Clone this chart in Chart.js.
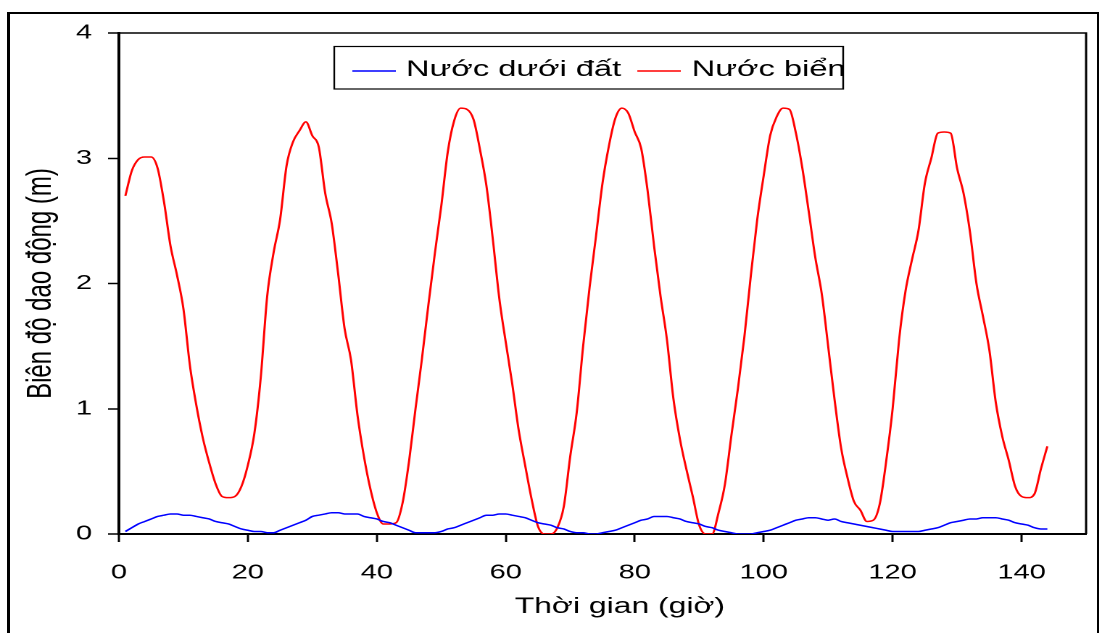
<!DOCTYPE html>
<html>
<head>
<meta charset="utf-8">
<title>Biên độ dao động</title>
<script src="https://cdn.jsdelivr.net/npm/chart.js@4.4.0/dist/chart.umd.min.js"></script>
<style>
  html, body { margin: 0; padding: 0; background: #fff; width: 1099px; height: 633px; overflow: hidden; }
  #frame { position: absolute; left: 7px; top: 12px; width: 1087px; height: 640px;
           border-left: 3px solid #000; border-top: 2px solid #000; border-right: 2px solid #000; }
  /* the original picture is stretched sideways, so the chart is drawn narrow and scaled */
  #wrap { position: absolute; left: 0; top: 0; width: 758px; height: 633px;
          transform: scaleX(1.45); transform-origin: 0 0; }
</style>
</head>
<body>
<div id="frame"></div>
<div id="wrap"><canvas id="chartTide"></canvas></div>
<script>
// hours
const hours = [
  1, 2, 3, 4, 5, 6, 7, 8, 9, 10, 11, 12,
  13, 14, 15, 16, 17, 18, 19, 20, 21, 22, 23, 24,
  25, 26, 27, 28, 29, 30, 31, 32, 33, 34, 35, 36,
  37, 38, 39, 40, 41, 42, 43, 44, 45, 46, 47, 48,
  49, 50, 51, 52, 53, 54, 55, 56, 57, 58, 59, 60,
  61, 62, 63, 64, 65, 66, 67, 68, 69, 70, 71, 72,
  73, 74, 75, 76, 77, 78, 79, 80, 81, 82, 83, 84,
  85, 86, 87, 88, 89, 90, 91, 92, 93, 94, 95, 96,
  97, 98, 99, 100, 101, 102, 103, 104, 105, 106, 107, 108,
  109, 110, 111, 112, 113, 114, 115, 116, 117, 118, 119, 120,
  121, 122, 123, 124, 125, 126, 127, 128, 129, 130, 131, 132,
  133, 134, 135, 136, 137, 138, 139, 140, 141, 142, 143, 144
];

// Nước dưới đất (m)
const groundWater = [
  0.02, 0.05, 0.08, 0.10, 0.12, 0.14, 0.15, 0.16, 0.16, 0.15, 0.15, 0.14,
  0.13, 0.12, 0.10, 0.09, 0.08, 0.06, 0.04, 0.03, 0.02, 0.02, 0.01, 0.01,
  0.03, 0.05, 0.07, 0.09, 0.11, 0.14, 0.15, 0.16, 0.17, 0.17, 0.16, 0.16,
  0.16, 0.14, 0.13, 0.12, 0.10, 0.09, 0.07, 0.05, 0.03, 0.01, 0.01, 0.01,
  0.01, 0.02, 0.04, 0.05, 0.07, 0.09, 0.11, 0.13, 0.15, 0.15, 0.16, 0.16,
  0.15, 0.14, 0.13, 0.11, 0.09, 0.08, 0.07, 0.05, 0.04, 0.02, 0.01, 0.01,
  0.00, 0.00, 0.01, 0.02, 0.03, 0.05, 0.07, 0.09, 0.11, 0.12, 0.14, 0.14,
  0.14, 0.13, 0.12, 0.10, 0.09, 0.08, 0.06, 0.05, 0.03, 0.02, 0.01, 0.00,
  0.00, 0.00, 0.01, 0.02, 0.03, 0.05, 0.07, 0.09, 0.11, 0.12, 0.13, 0.13,
  0.12, 0.11, 0.12, 0.10, 0.09, 0.08, 0.07, 0.06, 0.05, 0.04, 0.03, 0.02,
  0.02, 0.02, 0.02, 0.02, 0.03, 0.04, 0.05, 0.07, 0.09, 0.10, 0.11, 0.12,
  0.12, 0.13, 0.13, 0.13, 0.12, 0.11, 0.09, 0.08, 0.07, 0.05, 0.04, 0.04
];

// Nước biển (m)
const seaWater = [
  2.70, 2.90, 2.99, 3.01, 3.01, 2.92, 2.65, 2.30, 2.07, 1.80, 1.35, 1.03,
  0.77, 0.57, 0.40, 0.30, 0.29, 0.30, 0.38, 0.55, 0.80, 1.25, 1.90, 2.25,
  2.51, 2.94, 3.13, 3.22, 3.29, 3.18, 3.09, 2.72, 2.48, 2.08, 1.64, 1.39,
  0.95, 0.62, 0.36, 0.17, 0.08, 0.08, 0.09, 0.25, 0.58, 1.00, 1.40, 1.83,
  2.24, 2.62, 3.05, 3.30, 3.40, 3.39, 3.31, 3.07, 2.78, 2.35, 1.88, 1.53,
  1.20, 0.83, 0.55, 0.28, 0.06, 0.00, 0.00, 0.05, 0.22, 0.62, 0.97, 1.50,
  1.97, 2.38, 2.80, 3.10, 3.32, 3.40, 3.36, 3.21, 3.08, 2.74, 2.30, 1.90,
  1.55, 1.08, 0.76, 0.52, 0.30, 0.07, 0.00, 0.00, 0.17, 0.40, 0.79, 1.16,
  1.57, 2.06, 2.51, 2.86, 3.18, 3.33, 3.40, 3.39, 3.20, 2.92, 2.57, 2.21,
  1.92, 1.50, 1.07, 0.69, 0.45, 0.26, 0.19, 0.10, 0.11, 0.24, 0.58, 1.00,
  1.55, 1.94, 2.19, 2.42, 2.80, 3.00, 3.20, 3.21, 3.20, 2.92, 2.72, 2.41,
  2.00, 1.74, 1.47, 1.05, 0.78, 0.59, 0.38, 0.30, 0.29, 0.32, 0.52, 0.70
];

const seriesNames = ['Nước dưới đất', 'Nước biển'];
const xTitle = 'Thời gian (giờ)';
const yTitle = 'Biên độ dao động (m)';

Chart.defaults.font.family = "'Liberation Sans', Arial, sans-serif";
Chart.defaults.color = '#000';

// top + right frame of the plot, and the x axis title (sits a bit right of centre)
const plotFrame = {
    id: 'plotFrame',
    afterDraw(chart) {
        const c = chart.ctx, a = chart.chartArea;
        c.save();
        c.strokeStyle = '#000';
        c.lineWidth = 1.5;
        c.beginPath();
        c.moveTo(a.left, a.top);
        c.lineTo(a.right, a.top);
        c.lineTo(a.right, a.bottom);
        c.stroke();
        c.font = "22px 'Liberation Sans', Arial, sans-serif";
        c.fillStyle = '#000';
        c.textAlign = 'center';
        c.textBaseline = 'middle';
        c.fillText(xTitle, 427.5, 607);
        c.restore();
    }
};

// boxed legend inside the plot
const boxLegend = {
    id: 'boxLegend',
    afterDraw(chart) {
        const c = chart.ctx;
        c.save();
        c.fillStyle = '#fff';
        c.fillRect(230.5, 46.5, 351, 42.5);
        c.strokeStyle = '#000';
        c.lineWidth = 1.2;
        c.strokeRect(230.5, 46.5, 351, 42.5);
        const items = [[243, 280], [439.5, 477]];
        c.font = "22.5px 'Liberation Sans', Arial, sans-serif";
        c.textBaseline = 'middle';
        chart.data.datasets.forEach((ds, i) => {
            c.strokeStyle = ds.borderColor;
            c.lineWidth = 1.5;
            c.beginPath();
            c.moveTo(items[i][0], 71);
            c.lineTo(items[i][0] + 30, 71);
            c.stroke();
            c.fillStyle = '#000';
            c.fillText(ds.label, items[i][1], 70);
        });
        c.restore();
    }
};

const chartTide = document.querySelector('#chartTide').getContext('2d');

new Chart(chartTide, {
    type: 'line',
    data: {
        datasets: [
            {
                label: seriesNames[0],
                data: hours.map((h, i) => ({x: h, y: groundWater[i]})),
                borderColor: '#0000ff',
                borderWidth: 1.5,
                pointRadius: 0,
                cubicInterpolationMode: 'monotone'
            },
            {
                label: seriesNames[1],
                data: hours.map((h, i) => ({x: h, y: seaWater[i]})),
                borderColor: '#ff0000',
                borderWidth: 1.5,
                pointRadius: 0,
                cubicInterpolationMode: 'monotone'
            }
        ]
    },
    options: {
        responsive: true,
        maintainAspectRatio: false,
        animation: false,
        devicePixelRatio: 2,
        layout: { padding: { left: 0, top: 33, right: 9, bottom: 0 } },
        plugins: {
            legend: { display: false },
            tooltip: { enabled: false }
        },
        scales: {
            x: {
                type: 'linear',
                min: 0,
                max: 150,
                afterFit: s => { s.height = 99; },
                border: { color: '#000', width: 2 },
                grid: { drawOnChartArea: false, drawTicks: true, tickLength: 8, tickColor: '#000', tickWidth: 1.5 },
                ticks: { stepSize: 20, includeBounds: false, padding: 19, font: { size: 20 }, color: '#000' },
                title: { display: false }
            },
            y: {
                min: 0,
                max: 4,
                afterFit: s => { s.width = 82; },
                border: { color: '#000', width: 2 },
                grid: { drawOnChartArea: false, drawTicks: true, tickLength: 7.5, tickColor: '#000', tickWidth: 1.5 },
                ticks: { stepSize: 1, padding: 11, font: { size: 20 }, color: '#000' },
                title: { display: true, text: yTitle, font: { size: 24 }, padding: { top: 14, bottom: 0 }, color: '#000' }
            }
        }
    },
    plugins: [plotFrame, boxLegend]
});
</script>
</body>
</html>
